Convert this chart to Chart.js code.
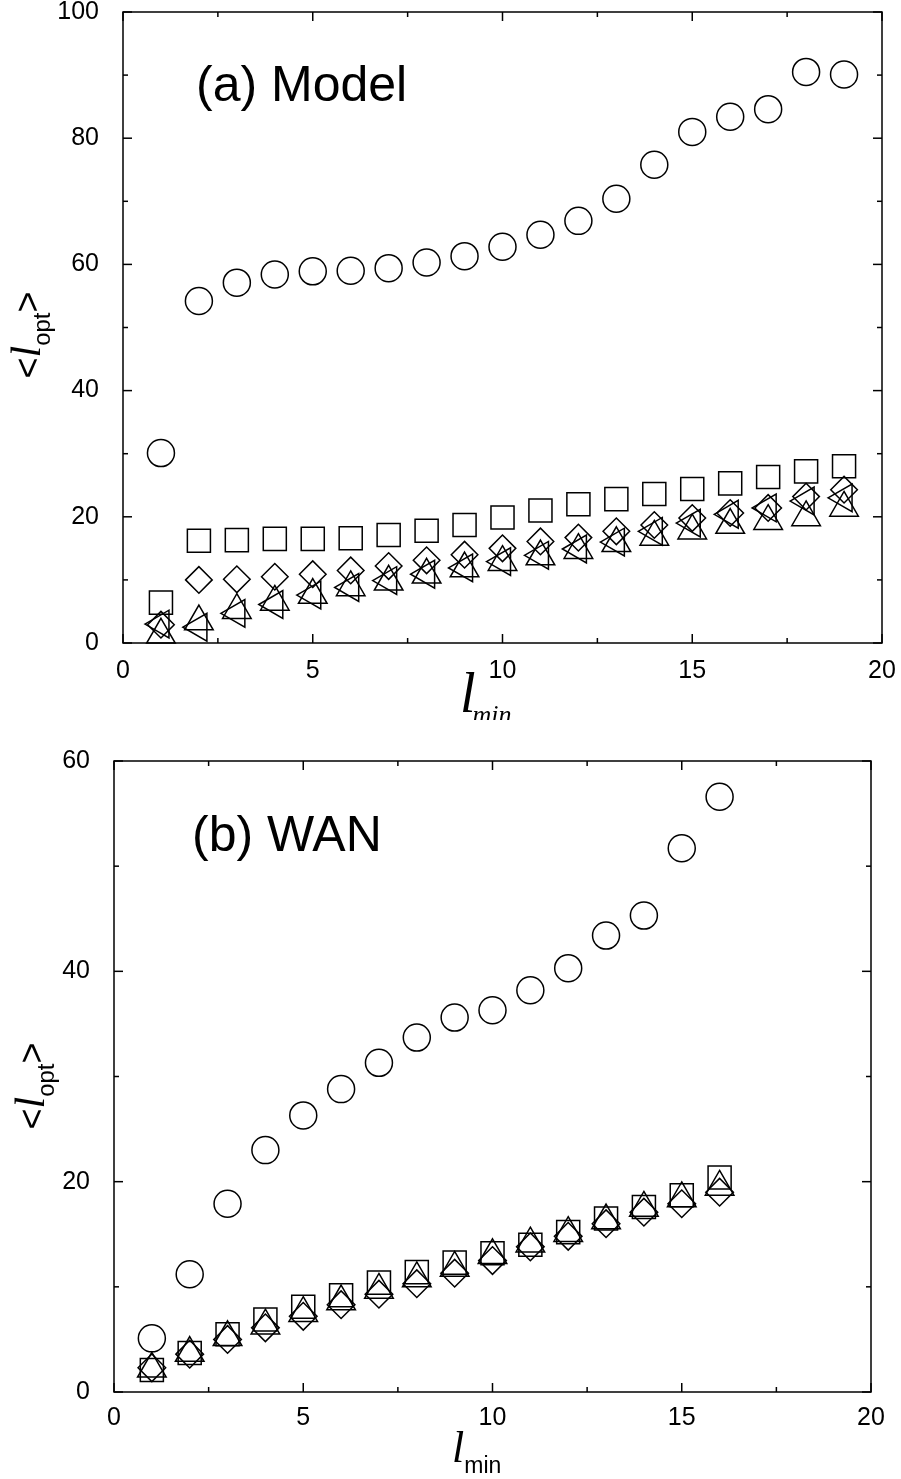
<!DOCTYPE html>
<html><head><meta charset="utf-8">
<script src="https://cdn.jsdelivr.net/npm/chart.js@4.4.1/dist/chart.umd.min.js"></script>
<style>html,body{margin:0;padding:0;background:#fff;overflow:hidden;}.wrap{position:absolute;left:0;width:901px;}</style>
</head><body>
<div class="wrap" style="top:720px;height:759px"><canvas id="c2" width="901" height="759"></canvas></div>
<div class="wrap" style="top:-12px;height:732px"><canvas id="c1" width="901" height="732"></canvas></div>
<script>
// ---------- data: (a) Model ----------
const lminTop = [1,2,3,4,5,6,7,8,9,10,11,12,13,14,15,16,17,18,19];
const topCircle  = [30.1,54.2,57.1,58.4,58.9,59.0,59.4,60.3,61.3,62.8,64.7,66.9,70.4,75.8,81.0,83.4,84.6,90.5,90.1];
const topSquare  = [6.4,16.2,16.3,16.5,16.5,16.6,17.1,17.8,18.7,19.9,21.0,22.0,22.8,23.6,24.4,25.3,26.3,27.2,28.0];
const topDiamond = [2.9,10.0,10.1,10.5,10.9,11.5,12.2,13.1,14.0,15.0,16.1,16.7,17.7,18.7,19.8,20.6,21.4,23.2,24.3];
const topTriUp   = [1.3,3.4,5.2,6.5,7.6,8.8,9.7,10.8,11.8,12.8,13.7,14.7,15.8,16.8,17.8,18.7,19.3,19.9,21.4];
const topTriLeft = [3.0,2.5,4.7,6.1,7.6,8.8,9.9,10.9,11.9,12.9,13.9,14.9,16.0,17.7,19.0,20.4,21.4,22.5,23.0];
// ---------- data: (b) WAN ----------
const lminBot = [1,2,3,4,5,6,7,8,9,10,11,12,13,14,15,16];
const botCircle  = [5.1,11.2,17.9,23.0,26.3,28.8,31.3,33.7,35.6,36.3,38.2,40.3,43.4,45.3,51.7,56.6];
const botSquare  = [2.1,3.7,5.5,6.9,8.1,9.2,10.4,11.4,12.3,13.2,14.0,15.2,16.5,17.6,18.7,20.4];
const botDiamond = [2.3,3.6,5.0,6.1,7.2,8.3,9.3,10.3,11.3,12.5,13.8,14.8,16.0,17.1,17.9,19.0];
const botTriUp   = [2.2,3.7,5.2,6.3,7.5,8.6,9.7,10.8,11.8,13.0,14.1,15.1,16.3,17.5,18.4,19.5];
// ---------- ticks ----------
const xMajor = [0,5,10,15,20];
const xMinor = [2.5,7.5,12.5,17.5];
const yMajorTop = [0,20,40,60,80,100];
const yMinorTop = [10,30,50,70,90];
const yMajorBot = [0,20,40,60];
const yMinorBot = [10,30,50];

const SANS = '"Liberation Sans", Arial, Helvetica, sans-serif';
const SERIF = '"Liberation Serif", "Times New Roman", serif';

function ds(xs, ys, style, r, rot) {
  return {
    data: xs.map((x, i) => ({x: x, y: ys[i]})),
    pointStyle: style, pointRadius: r, pointHoverRadius: r, pointRotation: rot || 0,
    borderColor: '#000', backgroundColor: 'rgba(0,0,0,0)', pointBorderWidth: 1.5,
    pointHoverBorderWidth: 1.5, showLine: false, clip: false
  };
}

const deco = {
  id: 'deco',
  afterDraw(chart, args, o) {
    const ctx = chart.ctx, a = chart.chartArea, xs = chart.scales.x, ys = chart.scales.y;
    ctx.save();
    ctx.strokeStyle = '#000'; ctx.lineWidth = 1.5;
    ctx.strokeRect(a.left, a.top, a.right - a.left, a.bottom - a.top);
    const line = (x1, y1, x2, y2) => { ctx.beginPath(); ctx.moveTo(x1, y1); ctx.lineTo(x2, y2); ctx.stroke(); };
    const xt = (vals, len) => vals.forEach(v => { const p = xs.getPixelForValue(v); line(p, a.bottom, p, a.bottom - len); line(p, a.top, p, a.top + len); });
    const yt = (vals, len) => vals.forEach(v => { const p = ys.getPixelForValue(v); line(a.left, p, a.left + len, p); line(a.right, p, a.right - len, p); });
    xt(o.xMajor, 9); xt(o.xMinor, 5); yt(o.yMajor, 9); yt(o.yMinor, 5);
    // panel label
    ctx.fillStyle = '#000';
    ctx.textBaseline = 'alphabetic'; ctx.textAlign = 'left';
    ctx.font = '50px ' + SANS;
    ctx.fillText(o.panel, o.panelX, o.panelY);
    // x title: l_min
    const xt0 = o.xTitle;
    ctx.font = 'italic ' + xt0.lSize + 'px ' + SERIF;
    ctx.fillText('l', xt0.x, xt0.y);
    const lw = ctx.measureText('l').width;
    ctx.font = (xt0.subItalic ? 'italic ' : '') + xt0.subSize + 'px ' + (xt0.subItalic ? SERIF : SANS);
    ctx.fillText('min', xt0.x + lw + xt0.subDx, xt0.y + xt0.subDy);
    // y title: <l_opt> rotated
    const yt0 = o.yTitle;
    const parts = [
      {t: '<', f: yt0.bSize + 'px ' + SANS, dy: 0},
      {t: 'l', f: 'italic ' + yt0.lSize + 'px ' + SERIF, dy: 0},
      {t: 'opt', f: yt0.sSize + 'px ' + SANS, dy: yt0.subDy},
      {t: '>', f: yt0.bSize + 'px ' + SANS, dy: 0}
    ];
    let total = 0;
    parts.forEach(p => { ctx.font = p.f; p.w = ctx.measureText(p.t).width; total += p.w; });
    ctx.translate(yt0.x, yt0.cy);
    ctx.rotate(-Math.PI / 2);
    let cx = -total / 2;
    parts.forEach(p => { ctx.font = p.f; ctx.fillText(p.t, cx, p.dy); cx += p.w; });
    ctx.restore();
  }
};

function makeChart(id, cfg) {
  return new Chart(document.getElementById(id), {
    type: 'scatter',
    data: {datasets: cfg.datasets},
    options: {
      responsive: false, animation: false, events: [],
      layout: {padding: {top: cfg.padTop, right: cfg.padRight, left: 0, bottom: 0}},
      plugins: {legend: {display: false}, tooltip: {enabled: false}, deco: cfg.deco},
      scales: {
        x: {
          type: 'linear', min: 0, max: 20,
          afterBuildTicks: s => { s.ticks = xMajor.map(v => ({value: v})); },
          afterFit: s => { s.height = cfg.xHeight; s.paddingLeft = 0; s.paddingRight = 0; },
          grid: {display: false}, border: {display: false},
          ticks: {color: '#000', font: {family: SANS, size: 25}, padding: cfg.xPad, maxRotation: 0}
        },
        y: {
          type: 'linear', min: 0, max: cfg.yMax,
          afterBuildTicks: s => { s.ticks = cfg.yMajor.map(v => ({value: v})); },
          afterFit: s => { s.width = cfg.yWidth; s.paddingTop = 0; s.paddingBottom = 0; },
          grid: {display: false}, border: {display: false},
          ticks: {color: '#000', font: {family: SANS, size: 25}, padding: 16}
        }
      }
    },
    plugins: [deco]
  });
}

makeChart('c1', {
  datasets: [
    ds(lminTop, topCircle, 'circle', 13.5),
    ds(lminTop, topSquare, 'rect', 16.3),
    ds(lminTop, topDiamond, 'rectRot', 13.3),
    ds(lminTop, topTriUp, 'triangle', 16.5),
    ds(lminTop, topTriLeft, 'triangle', 16, 270)
  ],
  padTop: 24, padRight: 19, xHeight: 77, yWidth: 123, yMax: 100, yMajor: yMajorTop, xPad: 5,
  deco: {
    xMajor: xMajor, xMinor: xMinor, yMajor: yMajorTop, yMinor: yMinorTop,
    panel: '(a) Model', panelX: 196, panelY: 113,
    xTitle: {x: 460, y: 724, lSize: 56, subSize: 26, subItalic: true, subDx: -3, subDy: 11},
    yTitle: {x: 40, cy: 347, bSize: 36, lSize: 42, sSize: 24, subDy: 10}
  }
});

makeChart('c2', {
  datasets: [
    ds(lminBot, botCircle, 'circle', 13.5),
    ds(lminBot, botSquare, 'rect', 16.3),
    ds(lminBot, botDiamond, 'rectRot', 13.8),
    ds(lminBot, botTriUp, 'triangle', 16.5)
  ],
  padTop: 41, padRight: 30, xHeight: 87, yWidth: 114, yMax: 60, yMajor: yMajorBot, xPad: 3,
  deco: {
    xMajor: xMajor, xMinor: xMinor, yMajor: yMajorBot, yMinor: yMinorBot,
    panel: '(b) WAN', panelX: 192, panelY: 131,
    xTitle: {x: 452, y: 742, lSize: 44, subSize: 23, subItalic: false, subDx: 0, subDy: 11},
    yTitle: {x: 44, cy: 366, bSize: 36, lSize: 42, sSize: 24, subDy: 10}
  }
});
</script>
</body></html>
